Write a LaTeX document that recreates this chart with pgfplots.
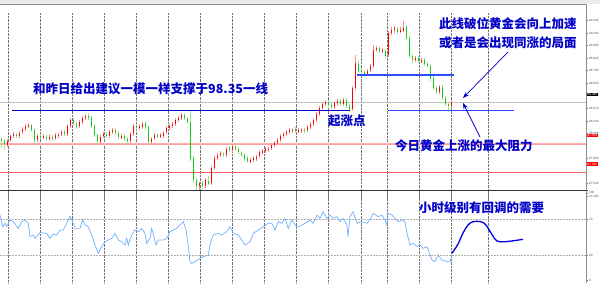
\documentclass[border=0pt]{standalone}
\usepackage{pgfplots}
\pgfplotsset{compat=1.18}
\usepackage{pgfplotstable}
\usetikzlibrary{arrows.meta}
\usepackage{fontspec}
\setmainfont{Liberation Sans}
\newfontfamily\cjk{Noto Sans CJK SC}
\definecolor{upred}{RGB}{255,0,0}
\definecolor{upwick}{RGB}{255,140,140}
\definecolor{dngreen}{RGB}{20,200,20}
\definecolor{dnwick}{RGB}{150,230,150}
\definecolor{txtblue}{RGB}{0,0,200}
\definecolor{lineblue}{RGB}{0,0,190}
\definecolor{brightblue}{RGB}{45,75,255}
\definecolor{rsiblue}{RGB}{110,175,255}
\definecolor{pinkline}{RGB}{255,175,175}
\definecolor{redline}{RGB}{255,95,95}

\pgfplotstableread{
i o c h l
2 97.974 98.018 98.040 97.952
3 98.018 98.062 98.084 97.996
4 98.062 98.084 98.106 98.040
6 98.073 98.106 98.128 98.051
7 98.106 98.139 98.161 98.084
8 98.139 98.172 98.194 98.117
9 98.172 98.183 98.205 98.150
12 98.018 98.062 98.084 97.996
14 98.051 98.062 98.084 98.029
16 98.040 98.062 98.084 98.018
18 98.040 98.073 98.095 98.018
19 98.073 98.084 98.106 98.051
20 98.084 98.106 98.128 98.062
22 98.084 98.172 98.194 98.062
23 98.172 98.238 98.260 98.150
26 98.172 98.216 98.238 98.150
27 98.216 98.260 98.282 98.194
28 98.260 98.282 98.304 98.238
33 98.007 98.062 98.084 97.985
34 98.062 98.084 98.106 98.040
36 98.062 98.106 98.128 98.040
37 98.106 98.128 98.150 98.084
40 98.051 98.062 98.084 98.029
43 98.007 98.084 98.106 97.985
44 98.084 98.172 98.194 98.062
46 98.150 98.172 98.194 98.128
47 98.172 98.205 98.227 98.150
50 98.007 98.040 98.062 97.985
51 98.040 98.073 98.095 98.018
53 98.062 98.073 98.095 98.040
54 98.073 98.106 98.128 98.051
55 98.106 98.150 98.172 98.084
56 98.150 98.172 98.194 98.128
57 98.172 98.194 98.216 98.150
58 98.194 98.238 98.260 98.172
59 98.238 98.260 98.282 98.216
60 98.260 98.293 98.315 98.238
66 97.512 97.545 97.567 97.479
68 97.512 97.578 97.600 97.490
70 97.545 97.710 97.732 97.523
71 97.710 97.820 97.842 97.688
72 97.820 97.853 97.875 97.798
73 97.853 97.875 97.897 97.831
75 97.864 97.930 97.952 97.842
77 97.908 97.952 97.974 97.886
83 97.787 97.798 97.820 97.765
84 97.798 97.820 97.842 97.776
85 97.820 97.842 97.864 97.798
86 97.842 97.886 97.908 97.820
87 97.886 97.897 97.919 97.864
88 97.897 97.919 97.941 97.875
89 97.919 97.930 97.952 97.897
90 97.930 97.963 97.985 97.908
91 97.963 97.985 98.007 97.941
92 97.985 98.018 98.040 97.963
93 98.018 98.062 98.084 97.996
94 98.062 98.084 98.106 98.040
95 98.084 98.106 98.128 98.062
96 98.106 98.128 98.150 98.084
97 98.128 98.139 98.161 98.106
99 98.117 98.128 98.150 98.095
100 98.128 98.139 98.161 98.106
102 98.128 98.161 98.183 98.106
103 98.161 98.194 98.216 98.139
104 98.194 98.238 98.260 98.172
105 98.238 98.304 98.326 98.216
106 98.304 98.370 98.392 98.282
107 98.370 98.414 98.447 98.348
108 98.414 98.436 98.458 98.392
111 98.381 98.425 98.447 98.359
112 98.425 98.447 98.480 98.403
114 98.414 98.458 98.480 98.392
117 98.359 98.590 98.612 98.337
118 98.590 98.865 98.953 98.568
122 98.755 98.788 98.810 98.733
123 98.788 98.832 98.854 98.766
124 98.832 99.008 99.063 98.810
125 99.008 99.030 99.052 98.986
127 98.997 99.008 99.030 98.975
129 98.953 99.195 99.217 98.931
130 99.195 99.228 99.261 99.173
131 99.228 99.250 99.283 99.206
133 99.217 99.228 99.261 99.195
134 99.228 99.261 99.327 99.206
138 98.898 98.920 98.942 98.876
140 98.887 98.898 98.920 98.865
146 98.546 98.601 98.623 98.524
150 98.392 98.436 98.458 98.370
}\upcandles

\pgfplotstableread{
i o c h l
0 98.029 98.007 98.051 97.930
1 98.007 97.974 98.029 97.908
5 98.084 98.073 98.106 98.051
10 98.183 98.128 98.194 98.106
11 98.128 98.018 98.150 97.985
13 98.062 98.051 98.084 98.029
15 98.062 98.040 98.073 98.018
17 98.062 98.040 98.073 98.007
21 98.106 98.084 98.128 98.062
24 98.238 98.205 98.260 98.183
25 98.205 98.172 98.227 98.150
29 98.282 98.260 98.315 98.238
30 98.260 98.172 98.282 98.150
31 98.172 98.073 98.194 98.051
32 98.073 98.007 98.095 97.974
35 98.084 98.062 98.106 98.040
38 98.128 98.095 98.150 98.073
39 98.095 98.051 98.117 98.029
41 98.062 98.029 98.084 98.007
42 98.029 98.007 98.051 97.974
45 98.172 98.150 98.194 98.128
48 98.205 98.161 98.238 98.139
49 98.161 98.007 98.183 97.974
52 98.073 98.062 98.095 98.040
61 98.293 98.260 98.315 98.238
62 98.260 98.227 98.282 98.205
63 98.227 97.820 98.359 97.798
64 97.820 97.578 97.842 97.545
65 97.578 97.512 97.600 97.457
67 97.545 97.512 97.578 97.490
69 97.578 97.545 97.622 97.523
74 97.875 97.864 97.897 97.842
76 97.930 97.908 97.952 97.886
78 97.952 97.919 97.974 97.897
79 97.919 97.886 97.941 97.864
80 97.886 97.864 97.908 97.842
81 97.864 97.820 97.886 97.798
82 97.820 97.787 97.842 97.765
98 98.139 98.117 98.161 98.095
101 98.139 98.128 98.161 98.106
109 98.436 98.403 98.458 98.381
110 98.403 98.381 98.425 98.359
113 98.447 98.414 98.469 98.392
115 98.458 98.392 98.480 98.370
116 98.392 98.359 98.414 98.326
119 98.865 98.788 98.887 98.755
120 98.788 98.766 98.810 98.744
121 98.766 98.755 98.788 98.733
126 99.030 98.997 99.052 98.975
128 99.008 98.953 99.030 98.931
132 99.250 99.217 99.272 99.195
135 99.261 99.140 99.283 99.118
136 99.140 98.942 99.162 98.920
137 98.942 98.898 98.964 98.865
139 98.920 98.887 98.942 98.865
141 98.898 98.854 98.920 98.832
142 98.854 98.843 98.876 98.821
143 98.843 98.700 98.865 98.678
144 98.700 98.590 98.722 98.568
145 98.590 98.546 98.612 98.524
147 98.601 98.480 98.623 98.458
148 98.480 98.414 98.502 98.392
149 98.414 98.392 98.436 98.326
}\dncandles

\pgfplotstableread{
i v
-0.5 74.4
0.4 61.5
1.17 65.2
1.7 61.5
2.83 68.9
3.94 67
5.6 59.6
6.72 67
7.83 68.9
8.94 65.2
9.5 50.4
10.6 52.2
11.17 48.5
12.83 54.8
15.06 54.1
16.17 48.5
17.28 53.3
18.4 52.2
19.5 57.8
20.6 57.8
21.72 65.2
22.83 73.3
23.94 65.2
24.5 59.6
26.17 59.6
27.06 69.6
27.83 63.3
28.94 61.5
30.06 52.2
31.17 41.1
32.28 31.9
33.39 39.3
34.5 44.8
35.6 46.7
36.72 48.5
37.83 54.1
38.94 46.7
40.06 44.8
41.17 41.1
41.72 48.5
42.28 41.1
43.39 52.2
44.5 57.8
45.6 55.9
46.72 59.6
47.83 54.1
48.39 43
49.5 48.5
50.06 59.6
50.83 50.4
51.5 41.1
52.28 46.7
53.94 46.7
55.06 48.5
56.17 55.9
58.39 59.6
60.06 65.2
60.61 67
61.5 57.8
62.28 39.3
62.83 22.6
63.39 20.7
64.5 22.6
66.17 26.3
67.28 28.1
68.94 30
69.72 44.8
70.61 52.2
72.28 54.1
73.39 52.2
75.06 55.9
76.17 61.5
77.28 54.1
78.94 52.2
80.06 46.7
81.17 41.1
82.83 44.8
83.94 54.1
85.6 57.8
87.28 61.5
88.94 65.2
90.06 65.2
91.17 57.8
92.28 67
93.39 65.2
94.5 70.8
95.6 59.6
96.72 68.9
98.39 61.5
99.5 62
101.17 65.2
102.83 68.9
103.83 65.2
105.17 74.4
106.17 70.8
107.17 78.1
108.5 70.8
109.5 74.4
110.5 70.8
111.83 72.6
112.83 67
113.83 70.8
115.17 63.3
115.5 50.4
116.17 72.6
117.17 78.1
118.5 65.2
120.17 67
121.83 65.2
122.83 68.9
123.83 76.3
125.5 72.6
126.83 74.4
127.83 68.9
128.5 63.3
128.83 76.3
130.17 74.4
131.17 70.8
132.17 67
133.5 68.9
134.5 67
135.17 54.1
136.17 41.1
137.17 43
138.5 39.3
139.5 41.1
140.5 37.4
141.83 39.3
143.5 24.4
144.5 22.6
145.5 30
146.83 24.4
148.5 22.6
149.5 22.6
150.17 30
}\rsidata

\pgfplotstableread{
i v
150.17 31.9
152.17 42.2
153.83 54.4
155.5 63.3
157.17 67
159.83 67
161.5 63.3
163.17 54.4
165.17 45.6
167.83 44.8
171.17 46.1
173.83 47.4
}\projection

\pgfplotsset{
  panel/.style={
    scale only axis, width=586bp,
    xmin=-0.5, xmax=194.8333,
    axis line style={draw=none},
    xtick={2.17,13,23.67,34.33,45,55.67,66.33,77,87.67,98.33,109,119.83,128.5,139.17,149.83,162.17},
    xticklabels={},
    xmajorgrids,
    x grid style={densely dotted, black!55, line width=0.5bp},
    major x tick style={draw=none},
    ytick pos=right,
    tick align=outside,
    major tick length=2bp,
    major y tick style={black!55, line width=0.4bp},
    yticklabel style={font=\fontsize{3.1}{3.5}\selectfont, text=black!70, anchor=west, xshift=-2.5bp},
  },
  candle/.style 2 args={forget plot, draw=none, no markers,
    error bars/.cd, y dir=both, y explicit, error mark=none,
    error bar style={draw=#1, line width=#2}},
}

\begin{document}
\begin{tikzpicture}[x=1bp,y=1bp]
\path[use as bounding box] (0,0) rectangle (600,283);
\fill[black!8] (0,279) rectangle (600,283);
\draw[black!45, line width=0.6bp] (0,279) -- (586,279);

% ---------- price panel ----------
\begin{axis}[panel, at={(0,92.5)}, anchor=south west, height=186.5bp,
  ymin=97.3745, ymax=99.426,
  ytick={99.335,99.200,99.065,98.925,98.790,98.650,98.510,98.370,98.230,98.095,97.820,97.545,97.400},
  yticklabels={99.335,99.200,99.065,98.925,98.790,98.650,98.510,98.370,98.230,98.095,97.820,97.545,97.400},
]
% reference lines
\addplot[forget plot, black!25, line width=0.6bp] coordinates {(-0.5,98.433) (194.83,98.433)};
\addplot[forget plot, pinkline, line width=2.6bp] coordinates {(-0.5,97.977) (194.83,97.977)};
\addplot[forget plot, redline!60, line width=0.6bp] coordinates {(-0.5,97.977) (194.83,97.977)};
\addplot[forget plot, redline, line width=1.1bp] coordinates {(-0.5,97.666) (194.83,97.666)};

% candles: wicks
\addplot[candle={upwick}{0.9bp}]
  table[x=i, y expr={(\thisrow{h}+\thisrow{l})/2}, y error expr={(\thisrow{h}-\thisrow{l})/2}] {\upcandles};
\addplot[candle={dnwick}{0.9bp}]
  table[x=i, y expr={(\thisrow{h}+\thisrow{l})/2}, y error expr={(\thisrow{h}-\thisrow{l})/2}] {\dncandles};
% candles: bodies
\addplot[candle={upred}{1.6bp}]
  table[x=i, y expr={(\thisrow{o}+\thisrow{c})/2}, y error expr={abs(\thisrow{c}-\thisrow{o})/2}] {\upcandles};
\addplot[candle={dngreen}{1.6bp}]
  table[x=i, y expr={(\thisrow{o}+\thisrow{c})/2}, y error expr={abs(\thisrow{c}-\thisrow{o})/2}] {\dncandles};

% drawn support / resistance lines
\addplot[forget plot, lineblue, line width=1.3bp] coordinates {(3.5,98.35) (116.17,98.35)};
\addplot[forget plot, brightblue, line width=1.4bp] coordinates {(128.83,98.345) (170.83,98.345)};
\addplot[forget plot, brightblue, line width=1.4bp] coordinates {(118.5,98.736) (150.83,98.736)};
\end{axis}

% ---------- RSI panel ----------
\begin{axis}[panel, at={(0,0)}, anchor=south west, height=92.5bp,
  ymin=-1.11, ymax=101.67,
  ytick={99,70,30,2}, yticklabels={100,70,30,0},
]
\addplot[forget plot, black!30, densely dotted, line width=0.5bp] coordinates {(-0.5,70) (194.83,70)};
\addplot[forget plot, black!30, densely dotted, line width=0.5bp] coordinates {(-0.5,30) (194.83,30)};
\addplot[forget plot, rsiblue, line width=0.7bp] table[x=i, y=v] {\rsidata};
\addplot[forget plot, blue!90!black, line width=1.3bp, smooth, tension=0.6] table[x=i, y=v] {\projection};
\end{axis}

% frame lines
\draw[black!80, line width=1.2bp] (0,92.5) -- (588,92.5);
\draw[black!45, line width=0.8bp] (586,0) -- (586,279);

% price labels on the right
\node[fill=black, text=white, font=\fontsize{3.1}{3.5}\selectfont, inner sep=0.5bp, anchor=west] at (587,188.7) {98.430};
\node[fill=red, text=white, font=\fontsize{3.1}{3.5}\selectfont, inner sep=0.5bp, anchor=west] at (587,147.3) {97.975};
\node[fill=red, text=white, font=\fontsize{3.1}{3.5}\selectfont, inner sep=0.5bp, anchor=west] at (587,119) {97.665};

% annotations
\begin{scope}[every node/.style={inner sep=0pt, text=txtblue, font=\cjk\bfseries\fontsize{12.5bp}{14bp}\selectfont}]
\node[anchor=west] at (33,194.5) {和昨日给出建议一模一样支撑于98.35一线};
\node[anchor=west] at (439,259) {此线破位黄金会向上加速};
\node[anchor=west] at (439,240) {或者是会出现同涨的局面};
\node[anchor=west] at (328,162.5) {起涨点};
\node[anchor=west] at (395,137) {今日黄金上涨的最大阻力};
\node[anchor=west] at (419,75) {小时级别有回调的需要};
\end{scope}
\draw[-{Stealth[length=6bp,width=4.5bp]}, txtblue, line width=0.7bp] (508,231) -- (463,185);
\draw[-{Stealth[length=6bp,width=4.5bp]}, txtblue, line width=0.7bp] (480,146) -- (463,180);
\end{tikzpicture}
\end{document}
